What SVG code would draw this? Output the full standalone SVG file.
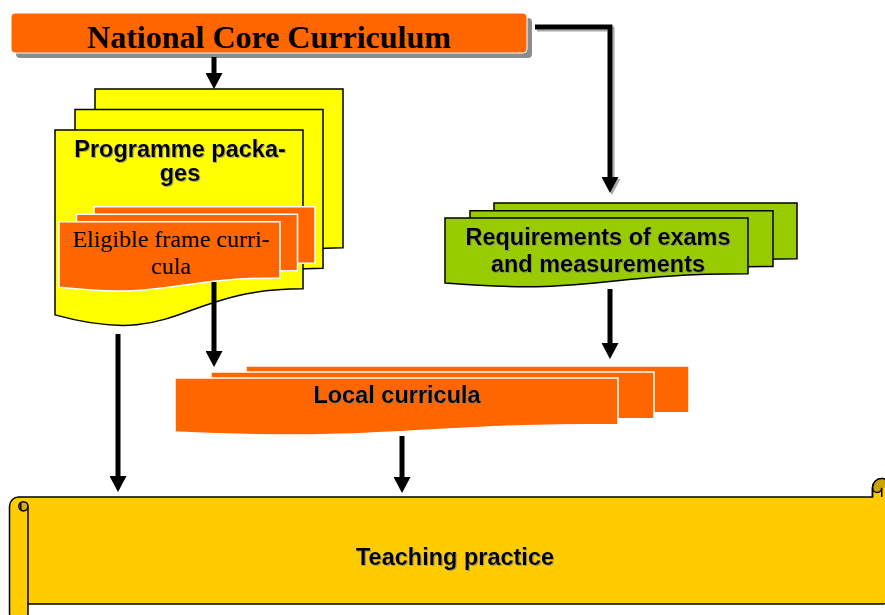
<svg xmlns="http://www.w3.org/2000/svg" width="885" height="615" viewBox="0 0 885 615">
  <style>
    .lbl { font-family: "Liberation Sans", Arial, sans-serif; font-weight: bold; font-size: 23.5px; fill: #000; text-anchor: middle; }
    .serif { font-family: "Liberation Serif", "Times New Roman", serif; fill: #000; text-anchor: middle; }
    .yel { fill: #FFFF00; stroke: #000; stroke-width: 1.5; stroke-linejoin: miter; }
    .grn { fill: #99CC00; stroke: #000; stroke-width: 1.5; }
    .org { fill: #FF6600; stroke: #FFFFFF; stroke-width: 1.5; }
    .conn { fill: none; stroke: #000; stroke-width: 5; stroke-linejoin: miter; }
    .scroll { fill: #FFCC00; stroke: #000; stroke-width: 1.5; }
    .curl { fill: none; stroke: #000; stroke-width: 1.5; }
    .dark { fill: #CCA300; stroke: none; }
  </style>
  <defs>
    <marker id="arrow" markerUnits="userSpaceOnUse" markerWidth="17" markerHeight="17" refX="0" refY="8.5" orient="auto">
      <path d="M0,0 L16,8.5 L0,17 Z" fill="#000"/>
    </marker>
    <filter id="tshadow" x="-5%" y="-20%" width="110%" height="140%">
      <feDropShadow dx="1" dy="1" stdDeviation="0.4" flood-color="#808080" flood-opacity="0.7"/>
    </filter>
    <filter id="lshadow" filterUnits="userSpaceOnUse" x="0" y="0" width="885" height="615">
      <feDropShadow dx="2" dy="2" stdDeviation="0.5" flood-color="#808080" flood-opacity="0.7"/>
    </filter>
  </defs>

  <!-- National Core Curriculum -->
  <g id="national-core-curriculum">
    <rect x="16" y="18" width="516" height="40" rx="4" fill="#8C8C8C"/>
    <rect x="11" y="13" width="516" height="40" rx="4" fill="#FF6600" stroke="#FFFFFF" stroke-width="1"/>
    <text class="serif" x="269" y="47.5" font-size="32" font-weight="bold">National Core Curriculum</text>
  </g>

  <!-- Programme packages -->
  <g id="programme-packages">
    <path class="yel" d="M95,89 H343 V247.8 C219,247.8 219,308.2 95,273.9 Z"/>
    <path class="yel" d="M75,109.5 H323 V268.3 C199,268.3 199,328.7 75,294.4 Z"/>
    <path class="yel" d="M55,130 H303 V288.8 C179,288.8 179,349.2 55,314.9 Z"/>
    <text class="lbl" x="180" y="157" filter="url(#tshadow)">Programme packa-</text>
    <text class="lbl" x="180" y="180.5" filter="url(#tshadow)">ges</text>
  </g>

  <!-- Eligible frame curricula -->
  <g id="eligible-frame-curricula">
    <path class="org" d="M94,206.7 H315 V263 C204.5,263 204.5,284.4 94,272.3 Z"/>
    <path class="org" d="M76.5,214.3 H297.5 V270.6 C187,270.6 187,292 76.5,279.9 Z"/>
    <path class="org" d="M59,221.7 H280 V278 C169.5,278 169.5,299.4 59,287.3 Z"/>
    <text class="serif" x="171" y="247" font-size="24">Eligible frame curri-</text>
    <text class="serif" x="171" y="273.5" font-size="24">cula</text>
  </g>

  <!-- Requirements of exams and measurements -->
  <g id="requirements">
    <path class="grn" d="M494,203 H797 V258.8 C645.5,258.8 645.5,280 494,268 Z"/>
    <path class="grn" d="M470,210.7 H773 V266.5 C621.5,266.5 621.5,287.7 470,275.7 Z"/>
    <path class="grn" d="M445,218 H748 V273.8 C596.5,273.8 596.5,295 445,283 Z"/>
    <text class="lbl" x="598" y="245" filter="url(#tshadow)">Requirements of exams</text>
    <text class="lbl" x="598" y="271.5" filter="url(#tshadow)">and measurements</text>
  </g>

  <!-- Local curricula -->
  <g id="local-curricula">
    <path class="org" d="M246,366 H689 V412.4 C467.5,412.4 467.5,430 246,420 Z"/>
    <path class="org" d="M211,372 H654 V418.4 C432.5,418.4 432.5,436 211,426 Z"/>
    <path class="org" d="M175,378 H618 V424.4 C396.5,424.4 396.5,442 175,432 Z"/>
    <text class="lbl" x="397" y="403" filter="url(#tshadow)">Local curricula</text>
  </g>

  <!-- Teaching practice (horizontal scroll) -->
  <g id="teaching-practice">
    <path class="scroll" d="M9.5,506.25 A9.25,9.25 0 0 1 18.75,497 L872.5,497 L872.5,487.75 A9.25,9.25 0 0 1 891,487.75 L891,594.75 A9.25,9.25 0 0 1 881.75,604 L28,604 L28,613.25 A9.25,9.25 0 0 1 9.5,613.25 Z"/>
    <!-- right top curl -->
    <path class="dark" d="M872.5,487.75 A9.25,9.25 0 0 1 891,487.75 L881.75,487.75 A4.625,4.625 0 0 1 872.5,487.75 Z"/>
    <path class="curl" d="M872.5,497 L872.5,487.75 A9.25,9.25 0 0 1 891,487.75"/>
    <path class="curl" d="M881.75,497 V487.75 A4.625,4.625 0 0 1 872.5,487.75"/>
    <!-- left roll -->
    <path d="M23.375,501.625 A4.625,4.625 0 0 1 23.375,510.875 A2.3,4.625 0 0 1 23.375,501.625 Z" fill="#D9AE00"/>
    <circle class="curl" cx="23.375" cy="506.25" r="4.625"/>
    <path class="curl" d="M20.8,502.4 V510.1"/>
    <path class="curl" d="M28,506.25 V604"/>
    <text class="lbl" x="455" y="565" filter="url(#tshadow)">Teaching practice</text>
  </g>

  <!-- Connectors -->
  <g id="connectors">
    <path class="conn" d="M214,57 V73" marker-end="url(#arrow)"/>
    <path class="conn" d="M535,27 H610 V177" marker-end="url(#arrow)" filter="url(#lshadow)"/>
    <path class="conn" d="M214,282 V351" marker-end="url(#arrow)"/>
    <path class="conn" d="M118,334 V476" marker-end="url(#arrow)"/>
    <path class="conn" d="M610,289 V343" marker-end="url(#arrow)"/>
    <path class="conn" d="M402,436 V477" marker-end="url(#arrow)"/>
  </g>
</svg>
